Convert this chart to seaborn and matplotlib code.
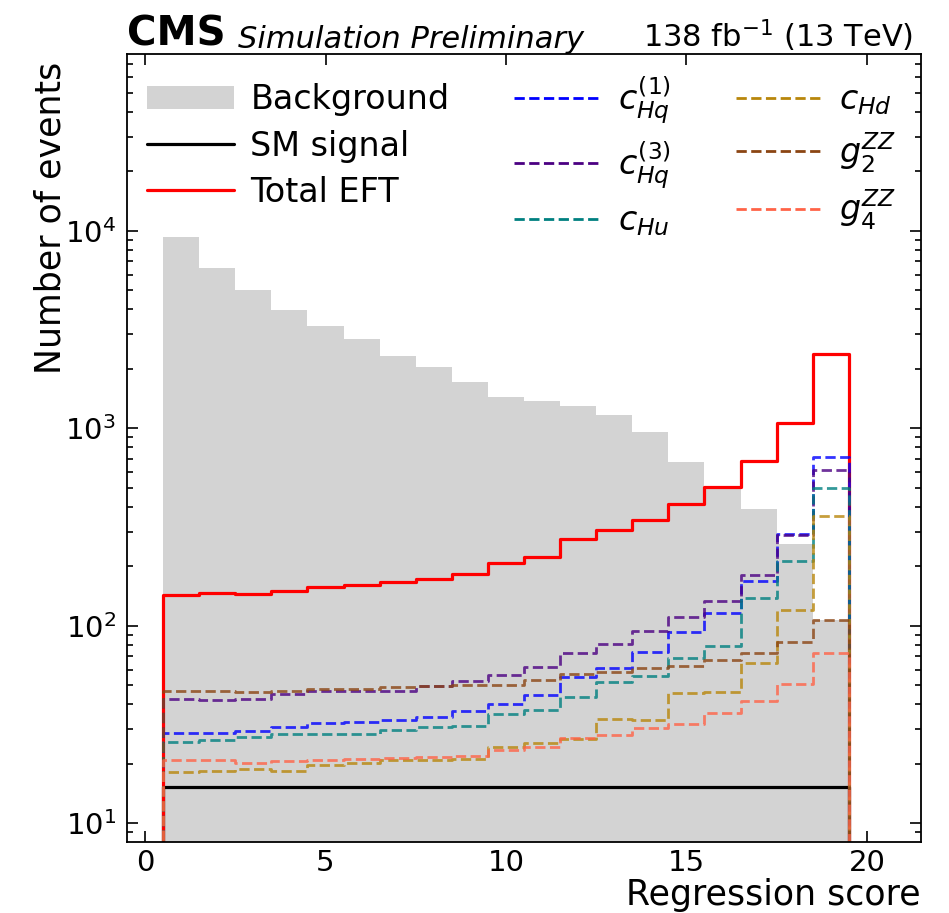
import numpy as np
import pandas as pd
import matplotlib
matplotlib.use("Agg")
import matplotlib.pyplot as plt
from matplotlib.ticker import LogLocator, NullFormatter
import seaborn as sns

# Regression-score bins: 19 unit-width bins centred on 1..19, with one empty
# bin on either side so each outline closes down to the baseline.
bin_edges = [-0.5, 0.5, 1.5, 2.5, 3.5, 4.5, 5.5, 6.5, 7.5, 8.5, 9.5, 10.5,
             11.5, 12.5, 13.5, 14.5, 15.5, 16.5, 17.5, 18.5, 19.5, 20.5]
bin_centres = [1, 2, 3, 4, 5, 6, 7, 8, 9, 10, 11, 12, 13, 14, 15, 16, 17, 18, 19]

background = [9340, 6460, 5010, 3970, 3290, 2830, 2330, 2040, 1720, 1443,
              1371, 1292, 1165, 961, 673, 492, 390, 259, 107]
sm_signal = [15.3, 15.3, 15.3, 15.3, 15.3, 15.3, 15.3, 15.3, 15.3, 15.3,
             15.3, 15.3, 15.3, 15.3, 15.3, 15.3, 15.3, 15.3, 15.3]
total_eft = [143, 147, 145, 150, 157, 161, 166, 173, 183, 207,
             224, 276, 305, 343, 413, 502, 685, 1059, 2365]
c_hq1 = [28.6, 28.7, 29.4, 30.6, 32.2, 32.4, 33.2, 34.5, 37.0, 40.1,
         44.4, 54.9, 61.2, 74.0, 92.5, 116, 169, 291, 715]
c_hq3 = [42.4, 41.9, 42.7, 44.9, 46.5, 46.7, 47.0, 49.4, 52.8, 56.6,
         61.9, 72.8, 80.9, 93.6, 111, 134, 180, 288, 613]
c_hu = [25.9, 26.5, 27.2, 28.2, 28.3, 28.4, 29.5, 30.7, 31.1, 35.8,
        37.5, 43.5, 51.8, 56.0, 68.7, 79.3, 138, 212, 501]
c_hd = [18.2, 18.4, 18.9, 18.5, 19.7, 20.3, 20.9, 21.0, 21.1, 24.2,
        25.6, 26.6, 33.9, 33.2, 45.6, 46.1, 64.6, 120, 361]
g2_zz = [46.9, 46.7, 46.2, 46.7, 48.0, 48.0, 48.9, 49.4, 50.0, 50.2,
         53.0, 57.1, 58.2, 61.0, 62.9, 67.1, 73.1, 83.0, 107]
g4_zz = [20.9, 20.9, 20.3, 20.7, 21.0, 21.2, 21.4, 21.7, 22.0, 23.6,
         24.3, 26.9, 27.9, 30.5, 32.0, 36.2, 41.4, 50.8, 73.0]

eft_labels = [r"$c_{Hq}^{(1)}$", r"$c_{Hq}^{(3)}$", r"$c_{Hu}$",
              r"$c_{Hd}$", r"$g_2^{ZZ}$", r"$g_4^{ZZ}$"]
eft_colors = ["blue", "indigo", "teal", "darkgoldenrod", "saddlebrown", "tomato"]

df = pd.DataFrame({
    "score": bin_centres,
    "background": background,
    "sm": sm_signal,
    "eft": total_eft,
    "c_hq1": c_hq1,
    "c_hq3": c_hq3,
    "c_hu": c_hu,
    "c_hd": c_hd,
    "g2_zz": g2_zz,
    "g4_zz": g4_zz,
})
eft_columns = ["c_hq1", "c_hq3", "c_hu", "c_hd", "g2_zz", "g4_zz"]

sns.set_theme(style="ticks")
plt.rcParams["font.family"] = ["DejaVu Sans"]
plt.rcParams["mathtext.fontset"] = "dejavusans"
for key in ["text.color", "axes.labelcolor", "xtick.color", "ytick.color",
            "axes.edgecolor"]:
    plt.rcParams[key] = "black"

fig = plt.figure(figsize=(9.49, 9.13), dpi=100)
ax = fig.add_axes([127 / 949, 71 / 913, 794 / 949, 788 / 913])
ax.set_yscale("log")

sns.histplot(data=df, x="score", weights="background", bins=bin_edges,
             element="step", fill=True, color="lightgray", alpha=1.0,
             linewidth=0, ax=ax, label="Background")
sns.histplot(data=df, x="score", weights="sm", bins=bin_edges,
             element="step", fill=False, color="black", linewidth=2.3,
             ax=ax, label="SM signal")
sns.histplot(data=df, x="score", weights="eft", bins=bin_edges,
             element="step", fill=False, color="red", linewidth=2.3,
             ax=ax, label="Total EFT")
for col, lab, colr in zip(eft_columns, eft_labels, eft_colors):
    sns.histplot(data=df, x="score", weights=col, bins=bin_edges,
                 element="step", fill=False, color=colr, linewidth=2.0,
                 linestyle="--", alpha=0.8, ax=ax, label=lab)

ax.set_xlim(-0.5, 21.5)
ax.set_ylim(8.04, 78500)
ax.set_xticks([0, 5, 10, 15, 20])
ax.yaxis.set_major_locator(LogLocator(base=10, numticks=10))
ax.yaxis.set_minor_locator(LogLocator(base=10, subs=np.arange(2, 10), numticks=20))
ax.yaxis.set_minor_formatter(NullFormatter())

ax.tick_params(which="both", direction="in", top=True, right=True, width=1.2,
               labelsize=21, color="black", labelcolor="black")
ax.tick_params(which="major", length=8, pad=8)
ax.tick_params(which="minor", length=4)
ax.tick_params(axis="x", which="major", pad=5)
for sp in ax.spines.values():
    sp.set_linewidth(1.3)
    sp.set_color("black")

ax.set_xlabel("Regression score", fontsize=25, ha="right", x=1.0, labelpad=1)
ax.set_ylabel("Number of events", fontsize=25, ha="right", y=0.99, labelpad=-2)

leg = ax.legend(ncol=3, loc="upper left", frameon=False, fontsize=24,
                handlelength=2.6, handletextpad=0.5, columnspacing=1.95,
                labelspacing=0.4, borderaxespad=0.3, borderpad=0.3)
for h in leg.legend_handles:
    h.set_alpha(1.0)

ax.text(0.0, 1.0, "CMS", transform=ax.transAxes, fontsize=29,
        fontweight="bold", ha="left", va="bottom")
ax.text(0.14, 1.0, "Simulation Preliminary", transform=ax.transAxes,
        fontsize=22, style="italic", ha="left", va="bottom")
ax.text(0.99, 1.0, r"138 fb$^{-1}$ (13 TeV)", transform=ax.transAxes,
        fontsize=22, ha="right", va="bottom")

fig.savefig("out.png", dpi=100)
